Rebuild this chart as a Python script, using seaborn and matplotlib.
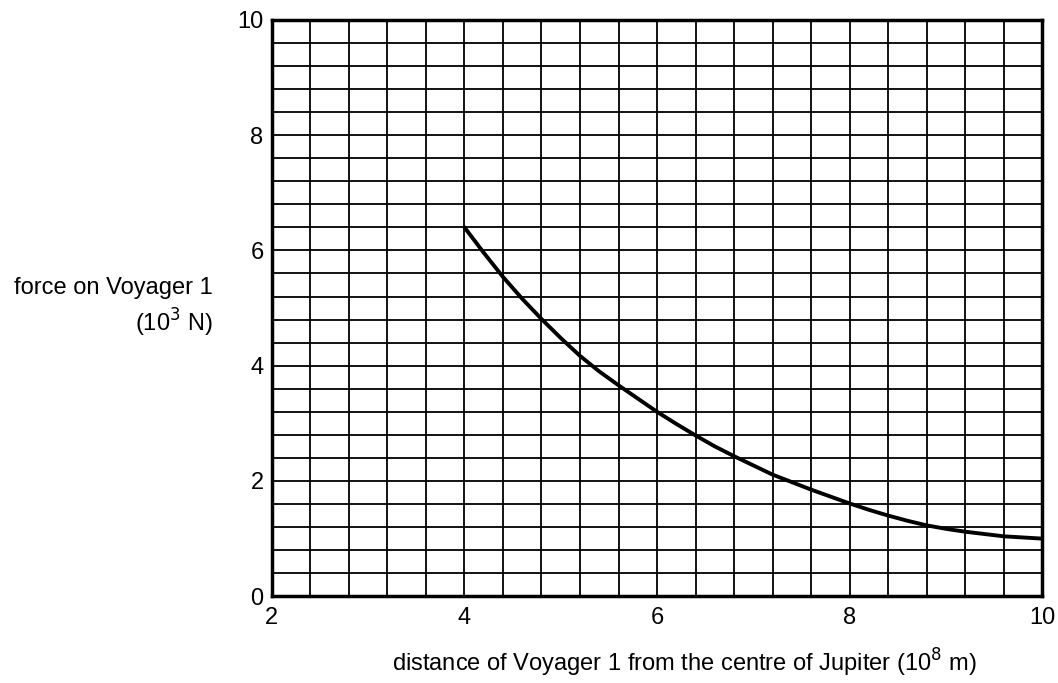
import numpy as np
import pandas as pd
import matplotlib
matplotlib.use("Agg")
import matplotlib.pyplot as plt
import seaborn as sns

# distance (10^8 m) and force (10^3 N)
distance = [4.0, 4.2, 4.4, 4.6, 4.8, 5.0, 5.2, 5.4, 5.6, 5.8, 6.0, 6.2, 6.4, 6.6, 6.8, 7.0,
            7.2, 7.4, 7.6, 7.8, 8.0, 8.2, 8.4, 8.6, 8.8, 9.0, 9.2, 9.4, 9.6, 9.8, 10.0]
force = [6.40, 5.96, 5.54, 5.16, 4.81, 4.48, 4.17, 3.90, 3.66, 3.43, 3.20, 2.99, 2.79, 2.60,
         2.43, 2.27, 2.11, 1.98, 1.85, 1.73, 1.61, 1.50, 1.40, 1.31, 1.23, 1.17, 1.12, 1.08,
         1.04, 1.02, 1.00]

x_ticks = [2, 4, 6, 8, 10]
y_ticks = [0, 2, 4, 6, 8, 10]

sns.set_style("white")
plt.rcParams['font.family'] = ['Liberation Sans', 'DejaVu Sans']
plt.rcParams['text.color'] = 'black'
plt.rcParams['xtick.color'] = 'black'
plt.rcParams['ytick.color'] = 'black'
plt.rcParams['axes.labelcolor'] = 'black'

df = pd.DataFrame({"distance": distance, "force": force})

fig = plt.figure(figsize=(10.58, 6.83), dpi=100)
ax = fig.add_axes([0.257, 0.127, 0.728, 0.844])

sns.lineplot(data=df, x="distance", y="force", ax=ax, color="black", linewidth=2.8)

ax.set_xlim(2, 10)
ax.set_ylim(0, 10)
ax.set_xticks(x_ticks)
ax.set_yticks(y_ticks)
# grid lines every 0.4 on both axes
ax.set_xticks(np.arange(2, 10.01, 0.4), minor=True)
ax.set_yticks(np.arange(0, 10.01, 0.4), minor=True)
ax.grid(which="both", color="black", linewidth=1.3)
ax.set_axisbelow(True)
ax.tick_params(which="both", length=0, labelsize=17)
ax.tick_params(axis="x", pad=8)
ax.tick_params(axis="y", pad=6)
for s in ax.spines.values():
    s.set_color("black")
    s.set_linewidth(2.5)

ax.set_xlabel("distance of Voyager 1 from the centre of Jupiter (10$^{8}$ m)", fontsize=17)
ax.xaxis.set_label_coords(0.535, -0.088)
ax.set_ylabel("")
fig.text(0.201, 0.549, "force on Voyager 1\n(10$^{3}$ N)", ha="right", va="center",
         fontsize=17, multialignment="right", linespacing=1.3)

fig.savefig("out.png", dpi=100)
